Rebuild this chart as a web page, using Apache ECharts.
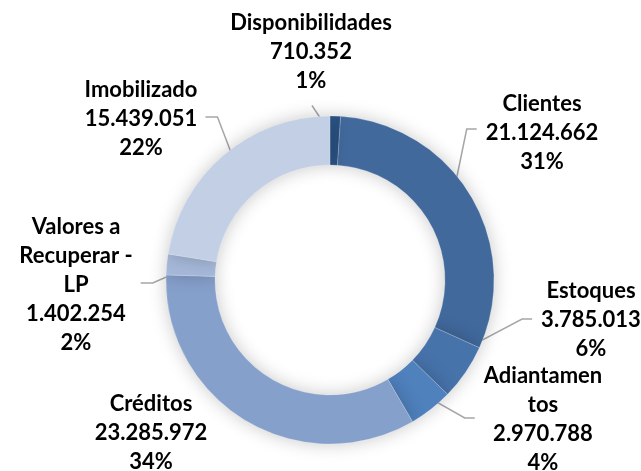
<!DOCTYPE html>
<html>
<head>
<meta charset="utf-8">
<script src="https://cdn.jsdelivr.net/npm/echarts@6/dist/echarts.min.js"></script>
<style>
html,body{margin:0;padding:0;background:#fff;}
#chart{width:641px;height:471px;}
</style>
</head>
<body>
<div id="chart"></div>
<script>
// ---- data ----
var categories = ['Disponibilidades', 'Clientes', 'Estoques', 'Adiantamentos', 'Créditos', 'Valores a Recuperar - LP', 'Imobilizado'];
var labelNames = ['Disponibilidades', 'Clientes', 'Estoques', 'Adiantamen\ntos', 'Créditos', 'Valores a\nRecuperar -\nLP', 'Imobilizado'];
var values = [710352, 21124662, 3785013, 2970788, 23285972, 1402254, 15439051];
var colors = ['#2d578b', '#41699c', '#4773ab', '#4f81bd', '#86a0cc', '#a6b8d9', '#c3cfe4'];

// ---- label placement (text only) ----
var labelPos = [
  {x: 311, y: 52, side: 'top'},
  {x: 542, y: 133, side: 'right', dy: -4},
  {x: 591, y: 320, side: 'right', dy: -1},
  {x: 543, y: 419, side: 'right', dy: -1},
  {x: 151, y: 433, side: 'none'},
  {x: 76, y: 285, side: 'left', dy: -2},
  {x: 141, y: 119, side: 'left', dy: -2}
];

function fmt(n) {
  return String(n).replace(/\B(?=(\d{3})+(?!\d))/g, '.');
}

var chart = echarts.init(document.getElementById('chart'), null, {renderer: 'canvas'});
var seriesData = categories.map(function (c, i) {
  return {
    name: c,
    value: values[i],
    itemStyle: {color: colors[i]},
    labelLine: {show: labelPos[i].side !== 'none'}
  };
});

var CX = 330, CY = 280, RING_IN = 115, RING_OUT = 164;

chart.setOption({
  backgroundColor: '#ffffff',
  animation: false,
  series: [{
    type: 'pie',
    center: [CX, CY],
    radius: [RING_IN, RING_OUT],
    startAngle: 90,
    clockwise: true,
    avoidLabelOverlap: false,
    data: seriesData,
    itemStyle: {
      borderColor: 'rgba(255,255,255,0.35)',
      borderWidth: 0.6,
      shadowBlur: 18,
      shadowColor: 'rgba(0,0,0,0.22)'
    },
    label: {
      show: true,
      position: 'outside',
      formatter: function (p) {
        return labelNames[p.dataIndex] + '\n' + fmt(p.value) + '\n' + Math.round(p.percent) + '%';
      },
      color: '#000',
      fontFamily: "Lato, 'Open Sans', sans-serif",
      fontWeight: 'bold',
      fontSize: 22,
      lineHeight: 29,
      align: 'center'
    },
    labelLine: {
      show: true,
      length: 10,
      length2: 10,
      lineStyle: {color: '#a6a6a6', width: 1.5}
    },
    labelLayout: function (params) {
      var i = params.dataIndex;
      var lp = labelPos[i];
      var w = params.labelRect.width, h = params.labelRect.height;
      var out = {x: lp.x, y: lp.y, align: 'center', verticalAlign: 'middle'};
      var pts = params.labelLinePoints;
      if (pts && pts.length >= 2 && lp.side !== 'none') {
        var p0 = pts[0];
        var dx = p0[0] - CX, dy = p0[1] - CY;
        var len = Math.sqrt(dx * dx + dy * dy) || 1;
        dx /= len; dy /= len;
        var rMid = (RING_OUT + RING_IN) / 2 + 1;
        var start = [CX + dx * rMid, CY + dy * rMid];
        var end, knee;
        if (lp.side === 'top') {
          end = [lp.x + 1, lp.y + h / 2 + 10];
          knee = end;
        } else if (lp.side === 'right') {
          end = [lp.x - w / 2 - 9, lp.y + (lp.dy || 0)];
          knee = [end[0] - 10, end[1]];
        } else {
          end = [lp.x + w / 2 + 8, lp.y + (lp.dy || 0)];
          knee = [end[0] + 12, end[1]];
        }
        out.labelLinePoints = [start, knee, end];
      }
      return out;
    }
  }]
});
</script>
</body>
</html>
